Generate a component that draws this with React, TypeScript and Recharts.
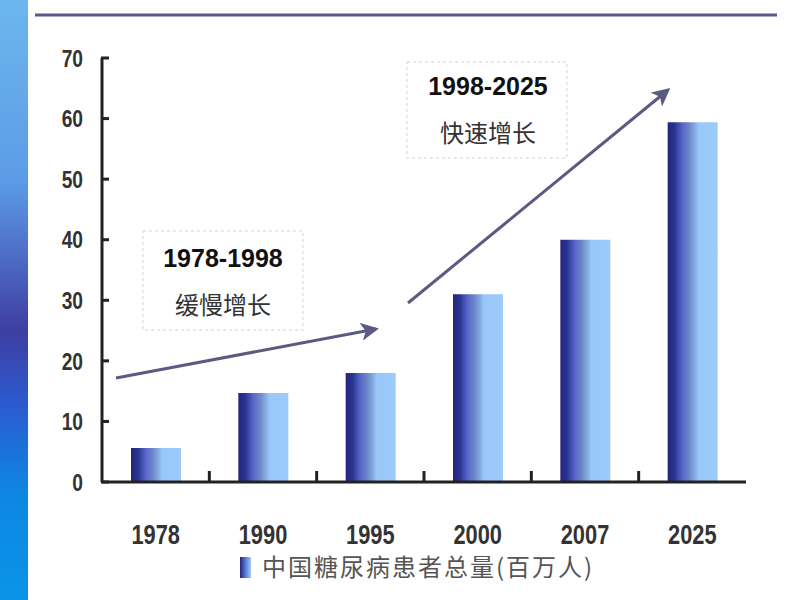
import React from 'react';
import { BarChart, Bar, XAxis, YAxis } from 'recharts';

const years = ['1978', '1990', '1995', '2000', '2007', '2025'];
const patients = [5.6, 14.7, 18, 31, 40, 59.4];
const yTicks = [0, 10, 20, 30, 40, 50, 60, 70];

const data = years.map((year, i) => ({ year, total: patients[i] }));

const numFont = "'Liberation Sans', Arial, sans-serif";
const cjkFont = "'Noto Sans CJK SC', sans-serif";

function YTick(props: any) {
  const { x, y, payload } = props;
  return (
    <g>
      <rect x={x + 18} y={y - 1.5} width={8} height={3} fill="#222" />
      <g transform={`translate(${x},${y}) scale(0.8,1)`}>
        <text x={0} y={0} dy="0.36em" textAnchor="end" fontFamily={numFont} fontWeight="bold" fontSize={24} fill="#333">
          {payload.value}
        </text>
      </g>
    </g>
  );
}

function XTick(props: any) {
  const { x, y, payload } = props;
  const off = payload.offset ?? 0;
  return (
    <g>
      {payload.index < years.length - 1 && (
        <line x1={x + off} y1={y} x2={x + off} y2={y - 11} stroke="#222" strokeWidth={3} />
      )}
      <g transform={`translate(${x},${y + 62}) scale(0.78,1)`}>
        <text x={0} y={0} textAnchor="middle" fontFamily={numFont} fontWeight="bold" fontSize={28} fill="#333">
          {payload.value}
        </text>
      </g>
    </g>
  );
}

export default function App() {
  return (
    <div style={{ position: 'absolute', left: 0, top: 0, width: 800, height: 600, background: '#fff' }}>
      <BarChart width={800} height={600} data={data} margin={{ top: 58, right: 54, bottom: 58, left: 0 }}>
        <defs>
          <linearGradient id="barGrad" x1="0" y1="0" x2="1" y2="0">
            <stop offset="0" stopColor="#24247e" />
            <stop offset="0.14" stopColor="#2a3590" />
            <stop offset="0.2" stopColor="#3a4aa8" />
            <stop offset="0.3" stopColor="#5a66cc" />
            <stop offset="0.42" stopColor="#6c84c8" />
            <stop offset="0.55" stopColor="#84aee0" />
            <stop offset="0.62" stopColor="#99c8f8" />
            <stop offset="1" stopColor="#9ccbfb" />
          </linearGradient>
        </defs>
        <XAxis
          dataKey="year"
          height={60}
          tickSize={0}
          tickMargin={0}
          tick={<XTick />}
          axisLine={{ stroke: '#222', strokeWidth: 3 }}
          tickLine={false}
          interval={0}
        />
        <YAxis
          width={102}
          domain={[0, 70]}
          ticks={yTicks}
          tickSize={0}
          tickMargin={19}
          tick={<YTick />}
          axisLine={{ stroke: '#222', strokeWidth: 3 }}
          tickLine={false}
          interval={0}
        />
        <Bar dataKey="total" fill="url(#barGrad)" barSize={50} isAnimationActive={false} />
      </BarChart>

      <svg width={800} height={600} style={{ position: 'absolute', left: 0, top: 0, pointerEvents: 'none' }}>
        <defs>
          <linearGradient id="strip" x1="0" y1="0" x2="0" y2="1">
            <stop offset="0" stopColor="#6cb6ee" />
            <stop offset="0.3" stopColor="#5c9ce6" />
            <stop offset="0.45" stopColor="#4a64c0" />
            <stop offset="0.55" stopColor="#3e3ea2" />
            <stop offset="0.68" stopColor="#2a5cd0" />
            <stop offset="0.82" stopColor="#0e86e2" />
            <stop offset="1" stopColor="#0a94e8" />
          </linearGradient>
          <linearGradient id="legendGrad" x1="0" y1="0" x2="1" y2="0">
            <stop offset="0" stopColor="#24247e" />
            <stop offset="0.5" stopColor="#5a7ad0" />
            <stop offset="1" stopColor="#9ccbfb" />
          </linearGradient>
          <marker id="arrowHead" markerWidth="6" markerHeight="6" refX="5" refY="3" orient="auto" markerUnits="strokeWidth">
            <path d="M0,0 L6,3 L0,6 L1.5,3 Z" fill="#5b5b82" />
          </marker>
        </defs>
        <rect x={0} y={0} width={28} height={600} fill="url(#strip)" />
        <line x1={35} y1={15} x2={777} y2={15} stroke="#5a5a8c" strokeWidth={3} />

        <rect x={143} y={231} width={160} height={99} fill="none" stroke="#d4d4d4" strokeDasharray="3 3" />
        <text x={223} y={267} textAnchor="middle" fontFamily={numFont} fontWeight="bold" fontSize={25} fill="#111">
          1978-1998
        </text>
        <text x={223} y={314} textAnchor="middle" fontFamily={cjkFont} fontSize={24} fill="#333">
          缓慢增长
        </text>

        <rect x={407} y={62} width={160} height={96} fill="none" stroke="#d4d4d4" strokeDasharray="3 3" />
        <text x={488} y={95} textAnchor="middle" fontFamily={numFont} fontWeight="bold" fontSize={25} fill="#111">
          1998-2025
        </text>
        <text x={488} y={142} textAnchor="middle" fontFamily={cjkFont} fontSize={24} fill="#333">
          快速增长
        </text>

        <line x1={116} y1={378} x2={376} y2={329} stroke="#5b5b82" strokeWidth={3} markerEnd="url(#arrowHead)" />
        <line x1={408} y1={303} x2={668} y2={90} stroke="#5b5b82" strokeWidth={3} markerEnd="url(#arrowHead)" />

        <rect x={240} y={557} width={11} height={21} fill="url(#legendGrad)" />
        <text x={262} y={576} fontFamily={cjkFont} fontSize={24} letterSpacing={2} fill="#555">
          中国糖尿病患者总量(百万人)
        </text>
      </svg>
    </div>
  );
}
